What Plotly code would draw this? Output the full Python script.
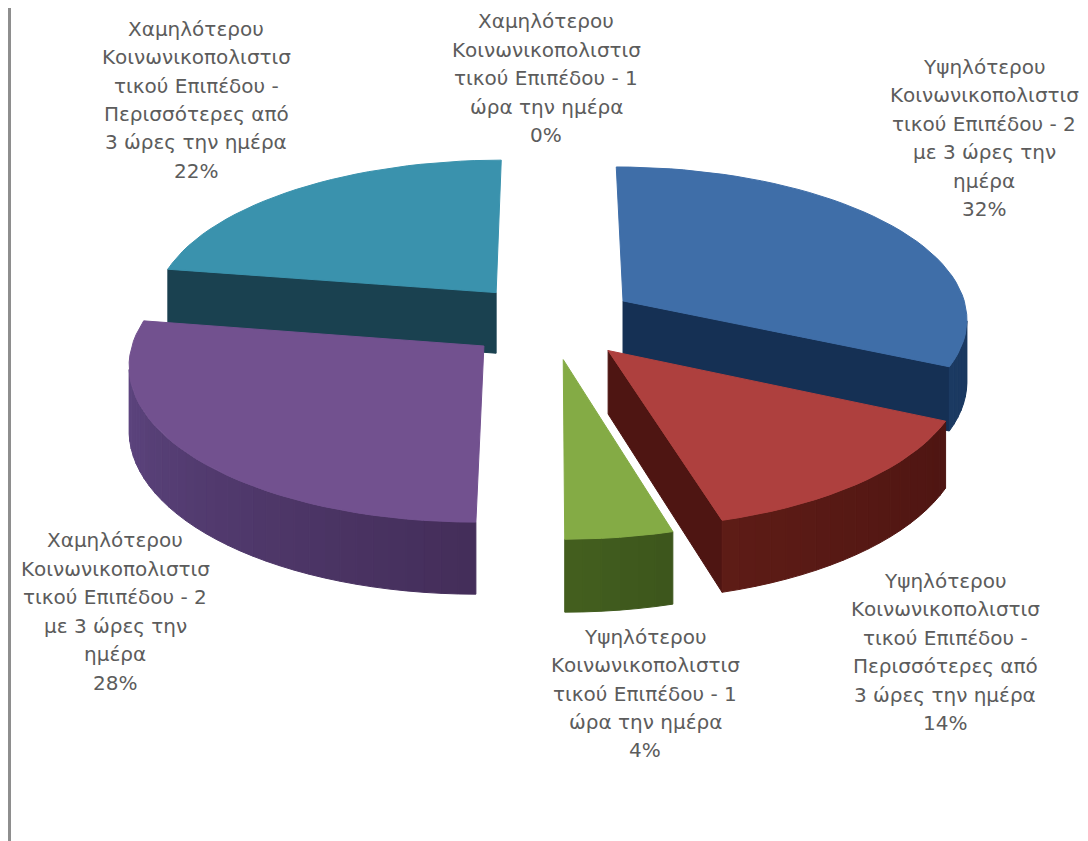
import math
import plotly.graph_objects as go

# ---------- data ----------
categories = [
    "Υψηλότερου Κοινωνικοπολιστικού Επιπέδου - 2 με 3 ώρες την ημέρα",
    "Υψηλότερου Κοινωνικοπολιστικού Επιπέδου - Περισσότερες από 3 ώρες την ημέρα",
    "Υψηλότερου Κοινωνικοπολιστικού Επιπέδου - 1 ώρα την ημέρα",
    "Χαμηλότερου Κοινωνικοπολιστικού Επιπέδου - 1 ώρα την ημέρα",
    "Χαμηλότερου Κοινωνικοπολιστικού Επιπέδου - 2 με 3 ώρες την ημέρα",
    "Χαμηλότερου Κοινωνικοπολιστικού Επιπέδου - Περισσότερες από 3 ώρες την ημέρα",
]
values = [32.0, 13.6, 4.4, 0.0, 27.6, 22.4]
label_lines = [
    ["Υψηλότερου", "Κοινωνικοπολιστισ", "τικού Επιπέδου - 2", "με 3 ώρες την", "ημέρα"],
    ["Υψηλότερου", "Κοινωνικοπολιστισ", "τικού Επιπέδου -", "Περισσότερες από", "3 ώρες την ημέρα"],
    ["Υψηλότερου", "Κοινωνικοπολιστισ", "τικού Επιπέδου - 1", "ώρα την ημέρα"],
    ["Χαμηλότερου", "Κοινωνικοπολιστισ", "τικού Επιπέδου - 1", "ώρα την ημέρα"],
    ["Χαμηλότερου", "Κοινωνικοπολιστισ", "τικού Επιπέδου - 2", "με 3 ώρες την", "ημέρα"],
    ["Χαμηλότερου", "Κοινωνικοπολιστισ", "τικού Επιπέδου -", "Περισσότερες από", "3 ώρες την ημέρα"],
]

# ---------- styles ----------
top_colors = ["#3f6ea8", "#ae403e", "#84ab45", "#9a9a9a", "#72518f", "#3a92ad"]
wall_light = ["#1b3a62", "#5e1c16", "#44601f", "#666666", "#634a88", "#1e5163"]
wall_dark = ["#153054", "#4e1512", "#3d561c", "#444444", "#442e5a", "#1a4150"]

# label placement: centre x, first-line y, line step
label_pos = [(984, 67, 28.4), (945, 581, 28.4), (645, 637, 28.3),
             (546, 21, 28.5), (115, 540, 28.6), (196, 29, 28.3)]

# ---------- projection ----------
XC, YC, RX, RY, K = 551, 321, 346, 152, 0.105
EXPLODE, DEPTH = 0.25, 62
FONT = "DejaVu Sans"
FONT_SIZE = 20
PAGE_INSET = 8  # the page's own margin round the figure
MIN_WALL_RUN = 15


def proj(x, v):
    w = 1 - K * v
    return XC + RX * x / w, YC + RY * v / w


def drop(v):
    return DEPTH / (1 - 0.12 * v)


def hex_mix(a, b, t):
    ca = [int(a[i:i + 2], 16) for i in (1, 3, 5)]
    cb = [int(b[i:i + 2], 16) for i in (1, 3, 5)]
    return "#" + "".join(f"{round(p + (q - p) * t):02x}" for p, q in zip(ca, cb))


def poly(xs, ys, color):
    return go.Scatter(x=xs + xs[:1], y=ys + ys[:1], mode="lines", fill="toself",
                      fillcolor=color, line=dict(color=color, width=1),
                      hoverinfo="skip", showlegend=False)


def quad(world_a, world_b, color):
    ax, ay = proj(*world_a)
    bx, by = proj(*world_b)
    return poly([ax, bx, bx, ax],
                [ay, by, by + drop(world_b[1]), ay + drop(world_a[1])], color)


total = sum(values)
slices = []
cum = 0.0
for i, val in enumerate(values):
    start = 2 * math.pi * cum / total
    cum += val
    end = 2 * math.pi * cum / total
    slices.append((i, start, end))

# back-to-front painting
draw_order = [0, 5, 4, 1, 2]
traces = []
for i in draw_order:
    _, start, end = slices[i]
    if end <= start:
        continue
    mid = (start + end) / 2
    ox, ov = EXPLODE * math.sin(mid), -EXPLODE * math.cos(mid)
    n = max(6, int((end - start) / math.radians(2.5)))
    arc = []
    for j in range(n + 1):
        t = start + (end - start) * j / n
        arc.append((ox + math.sin(t), ov - math.cos(t)))
    apex = (ox, ov)

    # radial walls, drawn when they face the viewer
    for a, b in ((apex, arc[0]), (arc[-1], apex)):
        if proj(*b)[0] < proj(*a)[0] - MIN_WALL_RUN:
            traces.append(quad(a, b, wall_dark[i]))
    # outer wall, shaded band by band
    for j in range(n):
        a, b = arc[j], arc[j + 1]
        if proj(*b)[0] < proj(*a)[0]:
            traces.append(quad(a, b, hex_mix(wall_dark[i], wall_light[i], j / n)))
    # top face
    pts = [proj(*apex)] + [proj(*p) for p in arc]
    traces.append(poly([p[0] for p in pts], [p[1] for p in pts], top_colors[i]))

fig = go.Figure(traces)

annotations = []
for lines, val, (cx, y0, step) in zip(label_lines, values, label_pos):
    for k, line in enumerate(lines + [f"{round(val)}%"]):
        annotations.append(dict(x=cx, y=y0 + k * step, xref="x", yref="y", text=line,
                                showarrow=False, xanchor="center", yanchor="middle",
                                font=dict(family=FONT, size=FONT_SIZE, color="#5c5c5c")))

fig.update_layout(
    width=1088 - PAGE_INSET, height=841 - PAGE_INSET, margin=dict(l=0, r=0, t=0, b=0),
    paper_bgcolor="#ffffff", plot_bgcolor="#ffffff",
    xaxis=dict(range=[PAGE_INSET, 1088], visible=False, fixedrange=True),
    yaxis=dict(range=[841, PAGE_INSET], visible=False, fixedrange=True),
    annotations=annotations,
    shapes=[dict(type="line", xref="x", yref="y", x0=9.5, x1=9.5, y0=PAGE_INSET, y1=841,
                 line=dict(color="#8e8e8e", width=3))],
)
fig.write_html("out.html", config={"displayModeBar": False})
